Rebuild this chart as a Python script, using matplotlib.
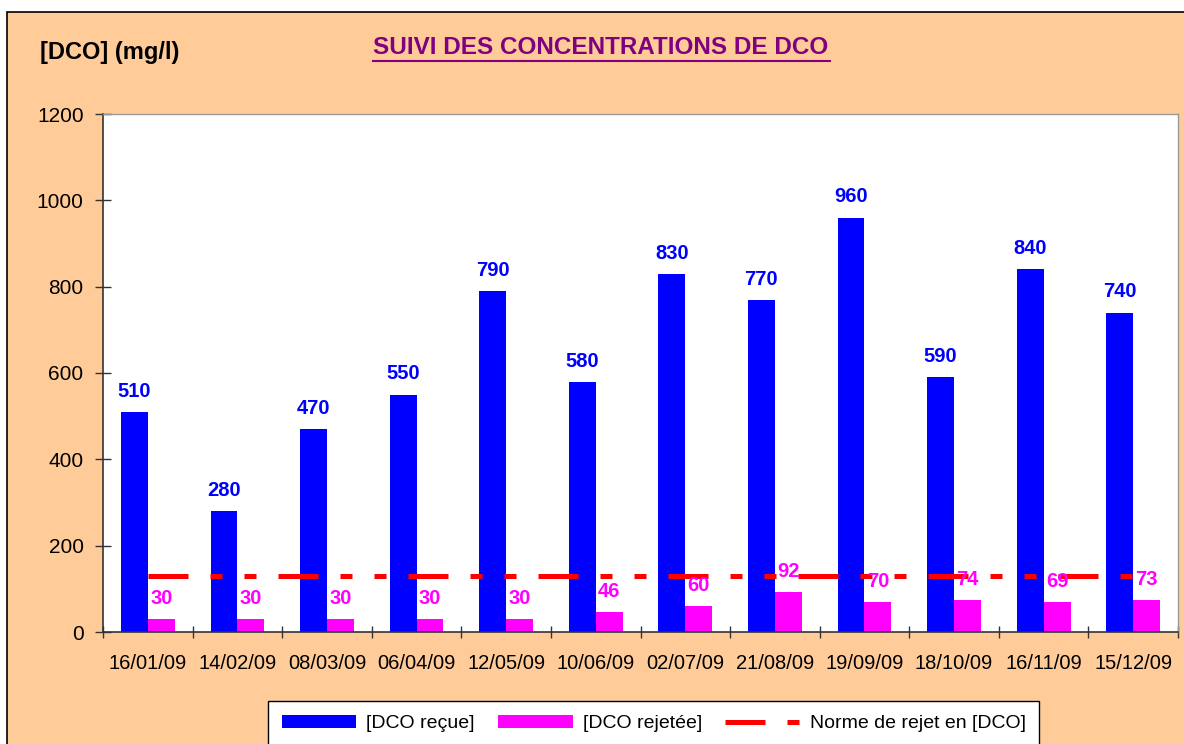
import numpy as np
import matplotlib
matplotlib.use('Agg')
import matplotlib.pyplot as plt
from matplotlib.patches import Rectangle
from matplotlib.lines import Line2D

plt.rcParams['font.family'] = ['Liberation Sans', 'DejaVu Sans']

dates = ['16/01/09', '14/02/09', '08/03/09', '06/04/09', '12/05/09', '10/06/09',
         '02/07/09', '21/08/09', '19/09/09', '18/10/09', '16/11/09', '15/12/09']
dco_recue = [510, 280, 470, 550, 790, 580, 830, 770, 960, 590, 840, 740]
dco_rejetee = [30, 30, 30, 30, 30, 46, 60, 92, 70, 74, 69, 73]
norme = [130] * 12

W, H = 1184, 744
fig = plt.figure(figsize=(W / 100, H / 100), dpi=100)
fig.patch.set_facecolor('white')

# peach chart area with black border (runs off the right/bottom edge)
bg = Rectangle((7 / W, -0.05), 1.2, 1 - 12 / H + 0.05, transform=fig.transFigure,
               facecolor='#FFCC99', edgecolor='black', linewidth=1.2, zorder=-10)
fig.patches.append(bg)

ax = fig.add_axes([103 / W, 1 - 632 / H, (1178 - 103) / W, (632 - 114) / H])
ax.set_facecolor('white')

x = np.arange(len(dates))
bw = 0.3
b1 = ax.bar(x - bw / 2, dco_recue, bw, color='#0000FF', label='[DCO reçue]', zorder=2)
b2 = ax.bar(x + bw / 2, dco_rejetee, bw, color='#FF00FF', label='[DCO rejetée]', zorder=2)
ln, = ax.plot(x, norme, color='#FF0000', linewidth=3.6, dashes=(8, 4.4, 2.4, 4.4, 2.4, 4.4),
              label='Norme de rejet en [DCO]', zorder=3)

for i in range(len(dates)):
    ax.annotate(str(dco_recue[i]), (x[i] - bw / 2, dco_recue[i]), xytext=(0, 8),
                textcoords='offset points', ha='center', va='bottom',
                color='#0000FF', fontsize=14.5, fontweight='bold', zorder=4)
    ax.annotate(str(dco_rejetee[i]), (x[i] + bw / 2, dco_rejetee[i]), xytext=(0, 8),
                textcoords='offset points', ha='center', va='bottom',
                color='#FF00FF', fontsize=14.5, fontweight='bold', zorder=4)

ax.set_xlim(-0.5, len(dates) - 0.5)
ax.set_ylim(0, 1200)
ax.set_yticks(range(0, 1201, 200))
ax.set_xticks(np.arange(-0.5, len(dates), 1))
ax.set_xticklabels([])
ax.set_xticks(x, minor=True)
ax.set_xticklabels(dates, minor=True)
ax.tick_params(axis='x', which='major', direction='inout', length=9, width=1, color='#333333')
ax.tick_params(axis='x', which='minor', length=0, labelsize=14.5, pad=16)
ax.tick_params(axis='y', direction='inout', length=12, width=1, color='#333333',
               labelsize=15, pad=8)

for s in ['left', 'bottom']:
    ax.spines[s].set_color('#333333')
    ax.spines[s].set_linewidth(1.2)
for s in ['top', 'right']:
    ax.spines[s].set_color('#999999')
    ax.spines[s].set_linewidth(1)

fig.text(40 / W, 1 - 52 / H, '[DCO] (mg/l)', fontsize=17, fontweight='bold',
         ha='left', va='center')
fig.text(601 / W, 1 - 47 / H, 'SUIVI DES CONCENTRATIONS DE DCO', fontsize=17.5,
         fontweight='bold', color='#800080', ha='center', va='center')
fig.add_artist(Line2D([373 / W, 830 / W], [1 - 61 / H, 1 - 61 / H],
                      transform=fig.transFigure, color='#800080', linewidth=1.5))

leg = fig.legend([b1, b2, ln], ['[DCO reçue]', '[DCO rejetée]', 'Norme de rejet en [DCO]'],
                 loc='lower left', bbox_to_anchor=(268 / W, -2 / H), ncol=3,
                 fontsize=14, frameon=True, fancybox=False, edgecolor='black',
                 framealpha=1, handlelength=3.85, handleheight=0.7, columnspacing=1.2,
                 handletextpad=0.5, borderpad=0.7, borderaxespad=0)
leg.get_frame().set_facecolor('white')
leg.get_frame().set_linewidth(1)

fig.savefig('out.png', dpi=100)
